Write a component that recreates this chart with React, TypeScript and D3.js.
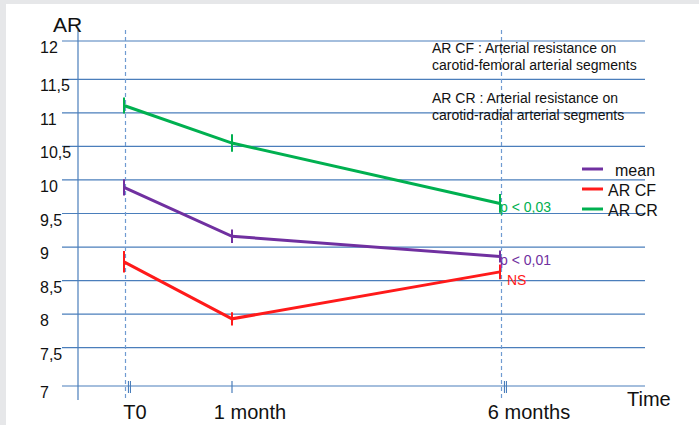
import {useMemo} from "react";
import * as d3 from "d3";

const times = ["T0", "1 month", "6 months"];
const yTicks = [7, 7.5, 8, 8.5, 9, 9.5, 10, 10.5, 11, 11.5, 12];

const meanVals = [9.89, 9.16, 8.86];
const arCfVals = [8.78, 7.93, 8.63];
const arCrVals = [11.11, 10.55, 9.65];

const meanErr = [0.12, 0.1, 0.09];
const arCfErr = [0.16, 0.1, 0.11];
const arCrErr = [0.12, 0.13, 0.14];

const series = [
    {name: "mean", values: meanVals, err: meanErr, color: "#7030a0"},
    {name: "AR CF", values: arCfVals, err: arCfErr, color: "#ff1a1a"},
    {name: "AR CR", values: arCrVals, err: arCrErr, color: "#00b050"},
];

const notes = [
    {text: "p < 0,03", series: 2, dy: 9},
    {text: "p < 0,01", series: 0, dy: 9},
    {text: "NS", series: 1, dy: 13},
];

const W = 699;
const H = 425;
const font = "'Liberation Sans', Arial, sans-serif";
const gridColor = "#4a7ebb";

const App = () => {
    const [x, y] = useMemo(() => {
        const x = d3.scaleOrdinal<string, number>().domain(times).range([124, 232, 500]);
        // the original axis is not quite even at both ends
        const y = d3.scaleLinear().domain([7, 7.5, 11.5, 12]).range([386, 347.7, 79.3, 41]);
        return [x, y];
    }, []);

    const line = d3.line<number>().x((d, i) => x(times[i])).y(d => y(d));

    return (
        <svg width={W} height={H} style={{position: "absolute", left: 0, top: 0}} fontFamily={font}>
            <rect width={W} height={H} fill="#e6e7e9"/>
            <rect x={6} y={4} width={W - 6} height={H - 4} fill="#fff"/>

            {yTicks.map(t => (
                <g key={t}>
                    <line x1={62} x2={645} y1={y(t)} y2={y(t)} stroke={gridColor} strokeWidth={1.2}/>
                    <text x={40} y={y(t) + 12} fontSize={16} fill="#111">{String(t).replace(".", ",")}</text>
                </g>
            ))}

            <line x1={78} x2={78} y1={30} y2={400} stroke={gridColor} strokeWidth={1.2}/>
            {[times[0], times[2]].map(t => (
                <line key={t} x1={x(t) + 1.5} x2={x(t) + 1.5} y1={30} y2={398} stroke="#6f9bd1"
                      strokeWidth={1.2} strokeDasharray="4,3"/>
            ))}
            {times.map((t, i) => {
                const tx = i === 1 ? x(t) : x(t) + 4.5;
                return (
                    <g key={t}>
                        <line x1={tx} x2={tx} y1={381} y2={393} stroke={gridColor} strokeWidth={1.2}/>
                        {i !== 1 && <line x1={tx + 2} x2={tx + 2} y1={381} y2={393} stroke={gridColor} strokeWidth={1}/>}
                    </g>
                );
            })}

            <text x={135} y={419} fontSize={20} textAnchor="middle" fill="#111">{times[0]}</text>
            <text x={250} y={419} fontSize={20} textAnchor="middle" fill="#111">{times[1]}</text>
            <text x={529} y={419} fontSize={20} textAnchor="middle" fill="#111">{times[2]}</text>
            <text x={627} y={406} fontSize={20} fill="#111">Time</text>
            <text x={53} y={32} fontSize={21} fill="#111">AR</text>

            {series.map(s => (
                <g key={s.name}>
                    <path d={line(s.values) ?? ""} fill="none" stroke={s.color} strokeWidth={3}/>
                    {s.values.map((v, i) => (
                        <line key={i} x1={x(times[i])} x2={x(times[i])} y1={y(v + s.err[i])} y2={y(v - s.err[i])}
                              stroke={s.color} strokeWidth={2}/>
                    ))}
                </g>
            ))}

            {notes.map(n => {
                const s = series[n.series];
                return (
                    <text key={n.text} x={x(times[2]) + (n.text === "NS" ? 7 : 0)} y={y(s.values[2]) + n.dy}
                          fontSize={14} fill={s.color}>{n.text}</text>
                );
            })}

            <g fontSize={14} fill="#111">
                <text x={432} y={53}>AR CF : Arterial resistance on</text>
                <text x={432} y={70}>carotid-femoral arterial segments</text>
                <text x={432} y={103}>AR CR : Arterial resistance on</text>
                <text x={432} y={120}>carotid-radial arterial segments</text>
            </g>

            {series.map((s, i) => (
                <g key={s.name} transform={`translate(582,${169 + i * 20})`}>
                    <line x1={0} x2={21} y1={0} y2={0} stroke={s.color} strokeWidth={3}/>
                    <text x={i === 0 ? 33 : 26} y={7} fontSize={16} fill="#111">{s.name}</text>
                </g>
            ))}
        </svg>
    );
};

export default App;
